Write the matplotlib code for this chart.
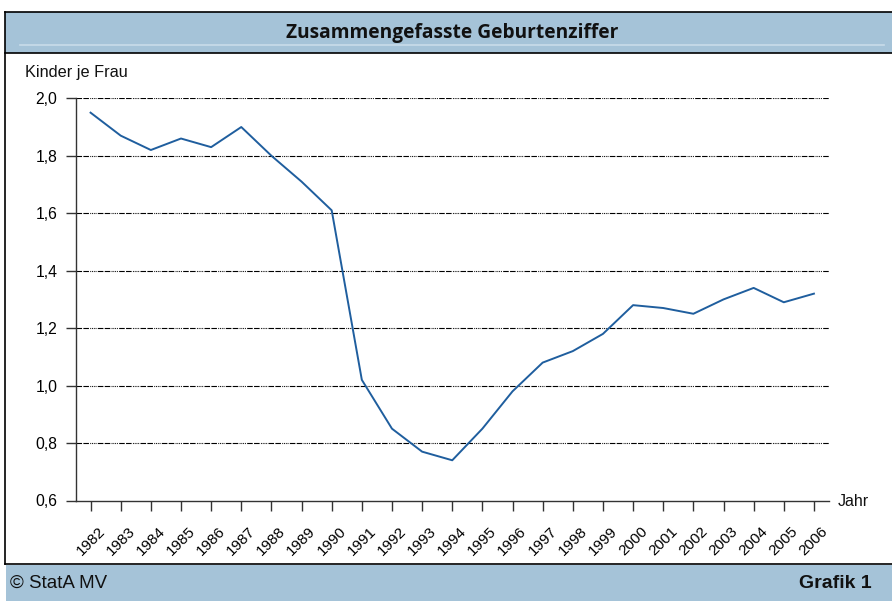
import matplotlib
matplotlib.use("Agg")
import matplotlib.pyplot as plt
from matplotlib.patches import Rectangle
from matplotlib.lines import Line2D

years = list(range(1982, 2007))
tfr = [1.95, 1.87, 1.82, 1.86, 1.83, 1.90, 1.80, 1.71, 1.61, 1.02,
       0.85, 0.77, 0.74, 0.85, 0.98, 1.08, 1.12, 1.18, 1.28, 1.27,
       1.25, 1.30, 1.34, 1.29, 1.32]
yticks = [0.6, 0.8, 1.0, 1.2, 1.4, 1.6, 1.8, 2.0]
ytick_labels = ["0,6", "0,8", "1,0", "1,2", "1,4", "1,6", "1,8", "2,0"]
title = "Zusammengefasste Geburtenziffer"
ylabel = "Kinder je Frau"
xlabel = "Jahr"
footer_left = "© StatA MV"
footer_right = "Grafik 1"

W, H = 892, 601
fig = plt.figure(figsize=(W / 100, H / 100), dpi=100)

# background frame in pixel coordinates
bg = fig.add_axes([0, 0, 1, 1], zorder=0)
bg.set_xlim(0, W)
bg.set_ylim(H, 0)
bg.axis("off")
band = "#a5c3d8"
bg.add_patch(Rectangle((5, 11.5), W - 5, 41.5, facecolor=band, edgecolor="none"))
bg.add_patch(Rectangle((5.5, 564.5), W - 5, 40, facecolor=band, edgecolor="none"))
bg.add_line(Line2D([20, 884], [45, 45], color="#c8dcea", lw=1.2))
bg.add_line(Line2D([5, W], [11.5, 11.5], color="black", lw=1.2))
bg.add_line(Line2D([5, W], [53, 53], color="black", lw=1.2))
bg.add_line(Line2D([5, W], [564, 564], color="black", lw=1.2))
bg.add_line(Line2D([5, 5], [11.5, 564], color="black", lw=1.2))
bg.text(452, 33, title, ha="center", va="center", fontsize=13.8,
        fontweight="bold", family="Open Sans", color="#111111")
bg.text(10, 583, footer_left, ha="left", va="center", fontsize=13.5,
        family="Liberation Sans", color="#111111")
bg.text(872, 583, footer_right, ha="right", va="center", fontsize=14,
        fontweight="bold", family="Liberation Sans", color="#111111")
bg.text(25, 72, ylabel, ha="left", va="center", fontsize=11.7,
        family="Liberation Sans", color="#111111")
bg.text(838, 502, xlabel, ha="left", va="center", fontsize=11.5,
        family="Liberation Sans", color="#111111")

# main axes
left, right, top, bottom = 75.5, 829, 98.3, 500.5
ax = fig.add_axes([left / W, 1 - bottom / H, (right - left) / W, (bottom - top) / H], zorder=1)
ax.patch.set_alpha(0)
ax.set_xlim(1981.5, 2006.5)
ax.set_ylim(0.6, 2.0)

for v in yticks[1:]:
    ax.axhline(v, color="black", lw=0.8, dashes=[5, 1.2, 5, 1.2, 0.8, 0.8, 0.8, 0.8, 0.8, 0.8, 0.8, 1.2], zorder=1)

ax.plot(years, tfr, color="#1f5e9e", lw=1.4, zorder=3)

for s in ["top", "right"]:
    ax.spines[s].set_visible(False)
for s in ["left", "bottom"]:
    ax.spines[s].set_color("#333333")
    ax.spines[s].set_linewidth(1.0)

ax.set_yticks(yticks)
ax.set_yticklabels(ytick_labels, family="Liberation Sans", fontsize=11.3)
ax.set_xticks(years)
ax.set_xticklabels([str(y) for y in years], family="Liberation Sans", fontsize=11,
                   rotation=45, ha="center", va="top")
ax.tick_params(axis="y", direction="out", length=7, width=1.0, color="#333333", pad=6)
ax.tick_params(axis="x", direction="out", length=7, width=1.0, color="#333333", pad=10)

fig.savefig("out.png", dpi=100)
